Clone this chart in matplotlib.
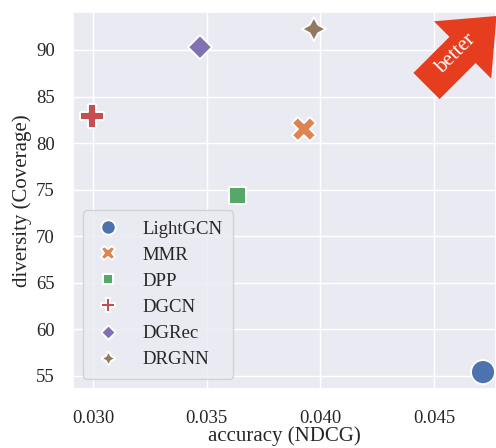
import matplotlib
matplotlib.use("Agg")
import matplotlib.pyplot as plt
import matplotlib.patches as mpatches
from matplotlib.transforms import IdentityTransform
import seaborn as sns
import pandas as pd

# methods and their scores
methods = ['LightGCN', 'MMR', 'DPP', 'DGCN', 'DGRec', 'DRGNN']
ndcg = [0.04716, 0.03928, 0.03638, 0.02996, 0.03471, 0.03972]
coverage = [55.4, 81.5, 74.4, 82.9, 90.3, 92.25]

sns.set_theme(style='darkgrid')
plt.rcParams['font.family'] = ['Liberation Serif', 'DejaVu Serif']

df = pd.DataFrame({'method': methods, 'ndcg': ndcg, 'coverage': coverage})

fig = plt.figure(figsize=(4.96, 4.48), dpi=100)
ax = fig.add_axes([0.147, 0.132, 0.853, 0.841])
sns.scatterplot(data=df, x='ndcg', y='coverage', hue='method', style='method',
                s=300, ax=ax, legend=True)

ax.set_xlim(0.02912, 0.04773)
ax.set_ylim(53.6, 94.07)
ax.set_xticks([0.030, 0.035, 0.040, 0.045])
ax.set_xticklabels(['0.030', '0.035', '0.040', '0.045'])
ax.set_yticks([55, 60, 65, 70, 75, 80, 85, 90])
ax.tick_params(labelsize=13.5)
ax.tick_params(axis='y', pad=7)
ax.tick_params(axis='x', pad=9)
ax.set_xlabel('accuracy (NDCG)', fontsize=15, labelpad=0)
ax.set_ylabel('diversity (Coverage)', fontsize=15, labelpad=3)

leg = ax.legend(loc='lower left', fontsize=13.5, title=None,
                borderaxespad=0.55, labelspacing=0.48, handletextpad=1.1,
                borderpad=0.55, markerscale=0.6, handlelength=1.5)

# "better" arrow in the upper right corner (pixel coordinates)
arrow = mpatches.FancyArrow(426.5, 362, 70, 70, width=37, head_width=81,
                            head_length=48, length_includes_head=True,
                            transform=IdentityTransform(), color='#e63d1f',
                            ec='none', clip_on=False)
fig.patches.append(arrow)
arrow.set_figure(fig)
fig.text(456, 394, 'better', rotation=45, ha='center', va='center',
         color='white', fontsize=15, transform=IdentityTransform())

fig.savefig('out.png', dpi=100)
